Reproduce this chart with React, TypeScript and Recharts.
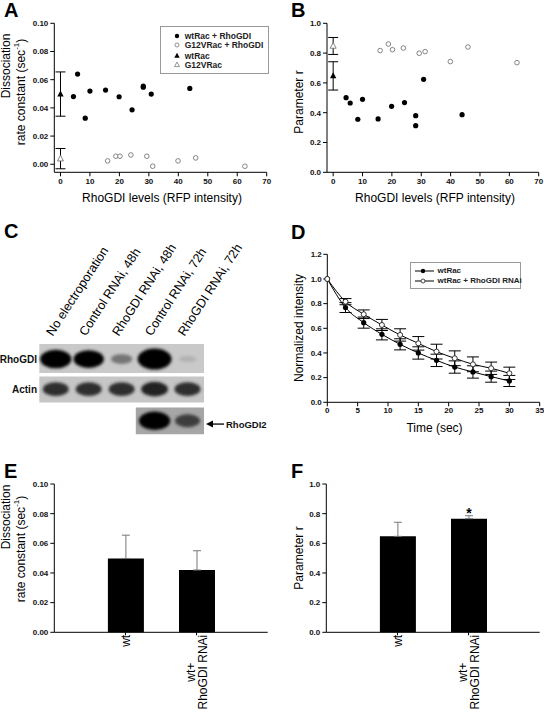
import React from 'react';
import {
  ScatterChart, Scatter, LineChart, Line, BarChart, Bar, XAxis, YAxis,
  ErrorBar, LabelList, ReferenceArea,
} from 'recharts';

const FONT = "'Liberation Sans', Arial, Helvetica, sans-serif";

// ---------- Panels A & B ----------
const rfpWtGdi = [4.4, 5.8, 8.4, 10.0, 15.3, 19.9, 24.3, 28.1, 28.1, 30.8, 43.9];
const koffWtGdi = [0.048, 0.064, 0.0327, 0.0519, 0.0526, 0.0479, 0.0386, 0.0555, 0.0547, 0.0498, 0.0538];
const rWtGdi = [0.501, 0.465, 0.356, 0.49, 0.358, 0.443, 0.468, 0.38, 0.313, 0.624, 0.387];

const rfpG12Gdi = [16.0, 18.8, 20.2, 23.9, 29.3, 31.3, 39.9, 45.9, 62.6];
const koffG12Gdi = [0.0024, 0.0057, 0.0057, 0.0066, 0.0057, -0.0014, 0.0024, 0.0045, -0.0014];
const rG12Gdi = [0.817, 0.861, 0.823, 0.834, 0.799, 0.81, 0.743, 0.841, 0.736];

const ctrlRfp = [0, 0];
const koffCtrl = [0.0498, 0.004];
const koffCtrlErr = [0.0157, 0.0072];
const rCtrl = [0.647, 0.848];
const rCtrlErr = [0.095, 0.057];

const seriesNamesAB = ['wtRac + RhoGDI', 'G12VRac + RhoGDI', 'wtRac', 'G12VRac'];
const rfpTicks = [0, 10, 20, 30, 40, 50, 60, 70];
const koffTicks = [0, 0.02, 0.04, 0.06, 0.08, 0.1];
const rTicks = [0, 0.2, 0.4, 0.6, 0.8, 1.0];

// ---------- Panel C (western blot) ----------
const blotLanes = ['No electroporation', 'Control RNAi, 48h', 'RhoGDI RNAi, 48h', 'Control RNAi, 72h', 'RhoGDI RNAi, 72h'];
const blotRows = ['RhoGDI', 'Actin', 'RhoGDI2'];
const rhoGdiSignal = [0.85, 0.8, 0.3, 1.0, 0.08];
const actinSignal = [0.55, 0.55, 0.55, 0.6, 0.55];
const rhoGdi2Signal = [null, null, null, 0.85, 0.5];

// ---------- Panel D ----------
const timeSec = [0, 3, 6, 9, 12, 15, 18, 21, 24, 27, 30];
const wtIntensity = [1.0, 0.768, 0.646, 0.551, 0.47, 0.40, 0.34, 0.286, 0.246, 0.208, 0.173];
const wtIntensityErr = [0, 0.04, 0.045, 0.045, 0.045, 0.05, 0.05, 0.05, 0.05, 0.045, 0.045];
const rnaiIntensity = [1.0, 0.816, 0.714, 0.627, 0.546, 0.478, 0.411, 0.357, 0.308, 0.276, 0.235];
const rnaiIntensityErr = [0, 0.025, 0.035, 0.045, 0.05, 0.055, 0.06, 0.06, 0.06, 0.05, 0.05];
const seriesNamesD = ['wtRac', 'wtRac + RhoGDI RNAi'];
const timeTicks = [0, 5, 10, 15, 20, 25, 30, 35];
const intensityTicks = [0, 0.2, 0.4, 0.6, 0.8, 1.0, 1.2];

// ---------- Panels E & F ----------
const barGroups = ['wt', 'wt+\nRhoGDI RNAi'];
const koffMeans = [0.0498, 0.042];
const koffErrs = [0.0157, 0.013];
const rMeans = [0.647, 0.766];
const rErrs = [0.095, 0.02];
const rSignificance = ['', '*'];

// ---------- derived tables ----------
const dataWtGdiA = rfpWtGdi.map((x, i) => ({ x, y: koffWtGdi[i] }));
const dataG12GdiA = rfpG12Gdi.map((x, i) => ({ x, y: koffG12Gdi[i] }));
const dataWtCtrlA = [{ x: ctrlRfp[0], y: koffCtrl[0], err: koffCtrlErr[0] }];
const dataG12CtrlA = [{ x: ctrlRfp[1], y: koffCtrl[1], err: koffCtrlErr[1] }];
const dataWtGdiB = rfpWtGdi.map((x, i) => ({ x, y: rWtGdi[i] }));
const dataG12GdiB = rfpG12Gdi.map((x, i) => ({ x, y: rG12Gdi[i] }));
const dataWtCtrlB = [{ x: ctrlRfp[0], y: rCtrl[0], err: rCtrlErr[0] }];
const dataG12CtrlB = [{ x: ctrlRfp[1], y: rCtrl[1], err: rCtrlErr[1] }];

const rowCenter = [2.5, 1.5, 0.45];
const rowLabelAt = [2.5, 1.5, 0.34];
const blotBands = [rhoGdiSignal, actinSignal, rhoGdi2Signal].flatMap((sig, r) =>
  sig.map((s, lane) => (s == null ? null : { lane, row: rowCenter[r], signal: s, r })).filter(Boolean)
);

const dataD = timeSec.map((t, i) => ({
  t, wt: wtIntensity[i], wtErr: wtIntensityErr[i], rnai: rnaiIntensity[i], rnaiErr: rnaiIntensityErr[i],
}));
const dataE = barGroups.map((g, i) => ({ g, v: koffMeans[i], err: [0, koffErrs[i]] }));
const dataF = barGroups.map((g, i) => ({ g, v: rMeans[i], err: [0, rErrs[i]], sig: rSignificance[i] }));

// ---------- helpers ----------
const axisTick = { fontSize: 8, fontWeight: 700, fill: '#111', fontFamily: FONT };

let ctx: any = null;
function measure(t: string, size: number) {
  if (!ctx) ctx = document.createElement('canvas').getContext('2d');
  ctx.font = `${size}px 'Liberation Sans', Arial, sans-serif`;
  return ctx.measureText(t).width;
}

const FilledCircle = (p: any) => <circle cx={p.cx} cy={p.cy} r={2.6} fill="#000" />;
const OpenCircle = (p: any) => <circle cx={p.cx} cy={p.cy} r={2.3} fill="#fff" stroke="#777" strokeWidth={0.9} />;
const FilledTri = (p: any) => (
  <polygon points={`${p.cx},${p.cy - 3.6} ${p.cx - 3.2},${p.cy + 2.4} ${p.cx + 3.2},${p.cy + 2.4}`} fill="#000" />
);
const OpenTri = (p: any) => (
  <polygon points={`${p.cx},${p.cy - 3.4} ${p.cx - 3},${p.cy + 2.3} ${p.cx + 3},${p.cy + 2.3}`} fill="#fff" stroke="#777" strokeWidth={0.9} />
);

const Txt = ({ x, y, rot, size = 12, bold, children }: any) => (
  <div
    style={{
      position: 'absolute', left: x, top: y,
      transform: `translate(-50%,-50%)${rot ? ` rotate(${rot}deg)` : ''}`,
      fontFamily: FONT, fontSize: size, fontWeight: bold ? 700 : 400,
      whiteSpace: 'nowrap', lineHeight: 1, color: '#000',
    }}
  >
    {children}
  </div>
);

const PanelLetter = ({ x, y, children }: any) => (
  <div style={{ position: 'absolute', left: x, top: y, fontFamily: FONT, fontSize: 20, fontWeight: 700, lineHeight: 1, color: '#000' }}>
    {children}
  </div>
);

const SecLabel = () => (
  <span>rate constant (sec<sup style={{ fontSize: 8, verticalAlign: 'top', position: 'relative', top: -2 }}>-1</sup>)</span>
);

// ---------- Panel A / B chart ----------
const ScatterPanel = ({ left, wt, g12, wtC, g12C, domain, ticks, fmt, marginLeft }: any) => (
  <div style={{ position: 'absolute', left, top: 0 }}>
    <ScatterChart width={272} height={210} margin={{ top: 23.3, right: 5.3, bottom: 17.7, left: marginLeft }}>
      <XAxis type="number" dataKey="x" domain={[-2.1, 70]} ticks={rfpTicks} allowDataOverflow interval={0}
        tick={axisTick} tickSize={4} tickMargin={2} stroke="#000" height={20} />
      <YAxis type="number" dataKey="y" domain={domain} ticks={ticks} allowDataOverflow interval={0}
        tickFormatter={fmt} tick={axisTick} tickSize={4} tickMargin={2} width={40} stroke="#000" />
      <Scatter name={seriesNamesAB[0]} data={wt} shape={FilledCircle} isAnimationActive={false} />
      <Scatter name={seriesNamesAB[1]} data={g12} shape={OpenCircle} isAnimationActive={false} />
      <Scatter name={seriesNamesAB[2]} data={wtC} shape={FilledTri} isAnimationActive={false}>
        <ErrorBar dataKey="err" direction="y" width={5} stroke="#000" strokeWidth={1} />
      </Scatter>
      <Scatter name={seriesNamesAB[3]} data={g12C} shape={OpenTri} isAnimationActive={false}>
        <ErrorBar dataKey="err" direction="y" width={5} stroke="#000" strokeWidth={1} />
      </Scatter>
    </ScatterChart>
  </div>
);

const LegendA = () => {
  const syms = [
    <circle cx={5} cy={5} r={2.2} fill="#000" />,
    <circle cx={5} cy={5} r={2} fill="#fff" stroke="#777" strokeWidth={0.8} />,
    <polygon points="5,1.8 2.3,6.8 7.7,6.8" fill="#000" />,
    <polygon points="5,2 2.5,6.6 7.5,6.6" fill="#fff" stroke="#777" strokeWidth={0.8} />,
  ];
  const ys = [10.2, 19.2, 30.2, 39.2];
  return (
    <div style={{ position: 'absolute', left: 160, top: 25.5, width: 108.5, height: 48, border: '1px solid #999', boxSizing: 'border-box', background: '#fff' }}>
      {seriesNamesAB.map((n, i) => (
        <React.Fragment key={n}>
          <svg width={10} height={10} style={{ position: 'absolute', left: 10.5, top: ys[i] - 5.5 }}>{syms[i]}</svg>
          <div style={{ position: 'absolute', left: 23.7, top: ys[i] - 6, fontFamily: FONT, fontSize: 8.5, fontWeight: 700, lineHeight: '11px', color: '#222', whiteSpace: 'nowrap' }}>{n}</div>
        </React.Fragment>
      ))}
    </div>
  );
};

// ---------- Panel C ----------
const LaneTick = (p: any) => {
  const { x, payload } = p;
  return (
    <text transform={`translate(${x - 3},${136.7}) rotate(-57)`} fontFamily={FONT} fontSize={12.6} fill="#000">
      {blotLanes[payload.value]}
    </text>
  );
};
const RowTick = (p: any) => {
  const { y, payload } = p;
  const idx = rowLabelAt.indexOf(payload.value);
  const name = blotRows[idx];
  if (idx === 2) {
    return (
      <g>
        <line x1={210} y1={y} x2={224} y2={y} stroke="#000" strokeWidth={1.3} />
        <polygon points={`${206},${y} ${213},${y - 3.5} ${213},${y + 3.5}`} fill="#000" />
        <text x={226} y={y} dy={3.5} fontFamily={FONT} fontSize={9.5} fontWeight={700} fill="#111">{name}</text>
      </g>
    );
  }
  return (
    <text x={37} y={y} dy={3.5} textAnchor="end" fontFamily={FONT} fontSize={10} fontWeight={700} fill="#111">
      {name}
    </text>
  );
};
const Band = (p: any) => {
  const s = p.payload.signal;
  const rx = 8 + 9 * s;
  const ry = 2.5 + 8 * s;
  const g = Math.round(200 - 200 * Math.min(1, s * 1.4));
  const id = `bb-${p.payload.r}-${p.payload.lane}`;
  return (
    <g>
      <defs>
        <filter id={id} x="-50%" y="-80%" width="200%" height="260%">
          <feGaussianBlur stdDeviation={1.6} />
        </filter>
      </defs>
      <ellipse cx={p.cx} cy={p.cy} rx={rx} ry={ry} fill={`rgb(${g},${g},${g})`} filter={`url(#${id})`} />
    </g>
  );
};

const BlotPanel = () => (
  <div style={{ position: 'absolute', left: 0, top: 200 }}>
    <ScatterChart width={272} height={270} margin={{ top: 44, right: 68, bottom: 35.7, left: 0.3 }}>
      <XAxis type="number" dataKey="lane" orientation="top" domain={[-0.5, 4.5]} ticks={[0, 1, 2, 3, 4]} interval={0}
        height={100} axisLine={false} tickLine={false} tick={<LaneTick />} />
      <YAxis type="number" dataKey="row" domain={[0, 3]} ticks={rowLabelAt} interval={0}
        width={39} axisLine={false} tickLine={false} tick={<RowTick />} />
      <ReferenceArea x1={-0.5} x2={4.5} y1={2.04} y2={3} fill="#c9c9c9" fillOpacity={1} stroke="none" />
      <ReferenceArea x1={-0.5} x2={4.5} y1={1.06} y2={1.92} fill="#c6c6c6" fillOpacity={1} stroke="none" />
      <ReferenceArea x1={2.43} x2={4.5} y1={0} y2={0.89} fill="#a6a6a6" fillOpacity={1} stroke="none" />
      <Scatter data={blotBands} shape={Band} isAnimationActive={false} />
    </ScatterChart>
  </div>
);

// ---------- Panel D ----------
const DotFilled = (p: any) => <circle key={`f${p.index}`} cx={p.cx} cy={p.cy} r={2.6} fill="#000" />;
const DotOpen = (p: any) => <circle key={`o${p.index}`} cx={p.cx} cy={p.cy} r={2.5} fill="#fff" stroke="#222" strokeWidth={0.9} />;

const DecayPanel = () => (
  <div style={{ position: 'absolute', left: 272, top: 200 }}>
    <LineChart width={272} height={240} data={dataD} margin={{ top: 54.3, right: 4.3, bottom: 17.7, left: 15.3 }}>
      <XAxis type="number" dataKey="t" domain={[0, 35]} ticks={timeTicks} interval={0}
        tick={axisTick} tickSize={4} tickMargin={1} stroke="#000" height={20} />
      <YAxis type="number" domain={[0, 1.2]} ticks={intensityTicks} interval={0}
        tickFormatter={(v: number) => v.toFixed(1)} tick={axisTick} tickSize={4} tickMargin={1.5} width={40} stroke="#000" />
      <Line name={seriesNamesD[0]} dataKey="wt" type="monotone" stroke="#000" strokeWidth={1} dot={DotFilled} isAnimationActive={false}>
        <ErrorBar dataKey="wtErr" width={6} stroke="#000" strokeWidth={1} />
      </Line>
      <Line name={seriesNamesD[1]} dataKey="rnai" type="monotone" stroke="#000" strokeWidth={1} dot={DotOpen} isAnimationActive={false}>
        <ErrorBar dataKey="rnaiErr" width={6} stroke="#000" strokeWidth={1} />
      </Line>
    </LineChart>
  </div>
);

const LegendD = () => (
  <div style={{ position: 'absolute', left: 410, top: 262, width: 111, height: 27, border: '1px solid #999', boxSizing: 'border-box', background: '#fff' }}>
    {seriesNamesD.map((n, i) => {
      const y = 7.5 + i * 10;
      return (
        <React.Fragment key={n}>
          <svg width={20} height={8} style={{ position: 'absolute', left: 4, top: y - 4 }}>
            <line x1={0} y1={4} x2={19} y2={4} stroke="#000" strokeWidth={1} />
            {i === 0 ? <circle cx={8} cy={4} r={2.2} fill="#000" /> : <circle cx={8} cy={4} r={2} fill="#fff" stroke="#222" strokeWidth={0.8} />}
          </svg>
          <div style={{ position: 'absolute', left: 26.5, top: y - 5.5, fontFamily: FONT, fontSize: 8, fontWeight: 700, lineHeight: '11px', color: '#222', whiteSpace: 'nowrap' }}>{n}</div>
        </React.Fragment>
      );
    })}
  </div>
);

// ---------- Panels E / F ----------
const BarTick = (p: any) => {
  const { x, y, payload } = p;
  const lines = String(payload.value).split('\n');
  const fs = 12;
  const maxW = Math.max(...lines.map((l) => measure(l, fs)));
  const n = lines.length;
  return (
    <g transform={`translate(${x},${y - 1}) rotate(-90)`}>
      {lines.map((l, i) => (
        <text key={i} x={-(maxW / 2 + 0.5)} y={(i - (n - 1) / 2) * 12.7 + 4.3} textAnchor="middle" fontFamily={FONT} fontSize={fs} fill="#000">
          {l}
        </text>
      ))}
    </g>
  );
};

const Asterisk = (p: any) => {
  const { x, y, width, value } = p;
  if (!value) return null;
  return (
    <text x={x + width / 2} y={y - 0.5} textAnchor="middle" fontFamily={FONT} fontSize={14} fontWeight={700} fill="#000">{value}</text>
  );
};

const BarPanel = ({ left, data, domain, ticks, fmt, withSig }: any) => (
  <div style={{ position: 'absolute', left, top: 470 }}>
    <BarChart width={272} height={245} data={data} margin={{ top: 14, right: 4.3, bottom: 2.7, left: 14.3 }}>
      <XAxis dataKey="g" padding={{ left: 35.6, right: 35.6 }} interval={0} tick={<BarTick />} tickSize={3} tickMargin={0} stroke="#000" height={80} />
      <YAxis type="number" domain={domain} ticks={ticks} interval={0} tickFormatter={fmt}
        tick={axisTick} tickSize={4} tickMargin={2} width={40} stroke="#000" />
      <Bar dataKey="v" fill="#000" barSize={36} isAnimationActive={false}>
        <ErrorBar dataKey="err" width={4} stroke="#777" strokeWidth={1} />
        {withSig ? <LabelList dataKey="sig" content={Asterisk} /> : null}
      </Bar>
    </BarChart>
  </div>
);

export default function App() {
  return (
    <div style={{ position: 'absolute', left: 0, top: 0, width: 544, height: 715, background: '#fff', overflow: 'hidden' }}>
      <ScatterPanel left={0} wt={dataWtGdiA} g12={dataG12GdiA} wtC={dataWtCtrlA} g12C={dataG12CtrlA}
        domain={[-0.0057, 0.1]} ticks={koffTicks} fmt={(v: number) => v.toFixed(2)} marginLeft={14.3} />
      <ScatterPanel left={272} wt={dataWtGdiB} g12={dataG12GdiB} wtC={dataWtCtrlB} g12C={dataG12CtrlB}
        domain={[0, 1]} ticks={rTicks} fmt={(v: number) => v.toFixed(1)} marginLeft={15} />
      <LegendA />
      <BlotPanel />
      <DecayPanel />
      <LegendD />
      <BarPanel left={0} data={dataE} domain={[0, 0.1]} ticks={koffTicks} fmt={(v: number) => v.toFixed(2)} />
      <BarPanel left={272} data={dataF} domain={[0, 1]} ticks={rTicks} fmt={(v: number) => v.toFixed(1)} withSig />

      <PanelLetter x={4} y={0}>A</PanelLetter>
      <PanelLetter x={291} y={0}>B</PanelLetter>
      <PanelLetter x={4} y={221}>C</PanelLetter>
      <PanelLetter x={291} y={222}>D</PanelLetter>
      <PanelLetter x={4} y={460.5}>E</PanelLetter>
      <PanelLetter x={291} y={460.5}>F</PanelLetter>

      <Txt x={6} y={65.5} rot={-90}>Dissociation</Txt>
      <Txt x={20.7} y={92} rot={-90}><SecLabel /></Txt>
      <Txt x={162} y={198.3}>RhoGDI levels (RFP intensity)</Txt>
      <Txt x={299.3} y={101.7} rot={-90}>Parameter r</Txt>
      <Txt x={435} y={198.3}>RhoGDI levels (RFP intensity)</Txt>
      <Txt x={299} y={328} rot={-90}>Normalized intensity</Txt>
      <Txt x={434.5} y={428}>Time (sec)</Txt>
      <Txt x={6} y={516.7} rot={-90}>Dissociation</Txt>
      <Txt x={20.7} y={549} rot={-90}><SecLabel /></Txt>
      <Txt x={299.3} y={558} rot={-90}>Parameter r</Txt>
    </div>
  );
}
